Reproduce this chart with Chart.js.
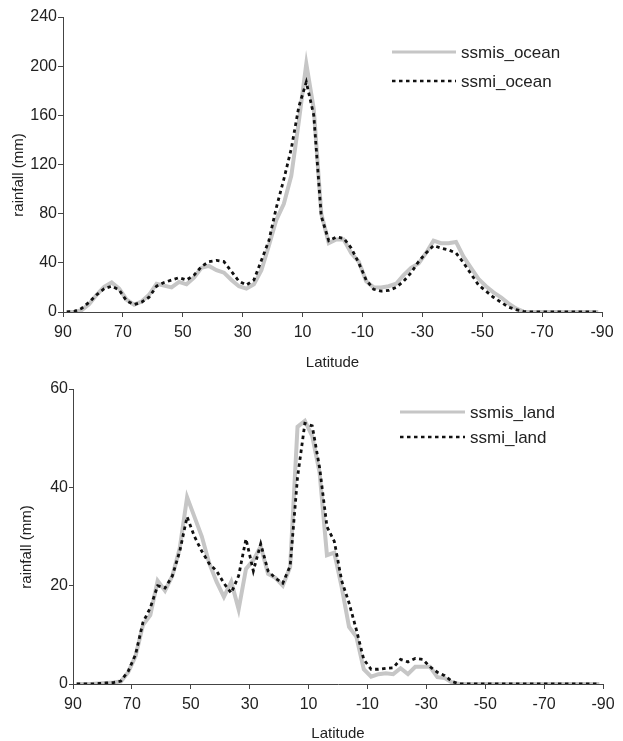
<!DOCTYPE html>
<html>
<head>
<meta charset="utf-8">
<script src="https://cdn.jsdelivr.net/npm/chart.js@4"></script>
<style>
  body { margin: 0; background: #fff; }
  canvas { display: block; }
</style>
</head>
<body>
<canvas id="oceanChart" width="623" height="370"></canvas>
<canvas id="landChart" width="623" height="371"></canvas>
<script>
// latitude bin centres, north to south
const latitudes = [88.75, 86.25, 83.75, 81.25, 78.75, 76.25, 73.75, 71.25, 68.75, 66.25,
  63.75, 61.25, 58.75, 56.25, 53.75, 51.25, 48.75, 46.25, 43.75, 41.25,
  38.75, 36.25, 33.75, 31.25, 28.75, 26.25, 23.75, 21.25, 18.75, 16.25,
  13.75, 11.25, 8.75, 6.25, 3.75, 1.25, -1.25, -3.75, -6.25, -8.75,
  -11.25, -13.75, -16.25, -18.75, -21.25, -23.75, -26.25, -28.75, -31.25, -33.75,
  -36.25, -38.75, -41.25, -43.75, -46.25, -48.75, -51.25, -53.75, -56.25, -58.75,
  -61.25, -63.75, -66.25, -68.75, -71.25, -73.75, -76.25, -78.75, -81.25, -83.75,
  -86.25, -88.75];

const ssmisOcean = [0, 0, 1.5, 6.5, 14, 20.5, 24, 19, 10, 6,
  8.5, 14, 23, 21.5, 20, 24.5, 22.5, 28, 36, 37.5,
  34, 32, 26, 21, 19, 22.5, 34, 54, 75, 88,
  111, 155, 202, 165, 80, 56, 59, 59, 48, 41,
  25, 20, 20, 21, 23, 30, 36, 39.5, 48, 58,
  56, 56, 57, 45, 36, 27, 21, 16, 12, 7,
  3, 0.3, 0, 0, 0, 0, 0, 0, 0, 0,
  0, 0];

const ssmiOcean = [0, 0.5, 3, 8, 14, 19, 21, 18, 9, 6,
  8, 12, 21, 24, 26, 28, 26, 30, 37, 41,
  42, 41, 33, 25, 22, 26, 42, 58, 85, 108,
  133, 167, 187, 160, 78, 58, 61, 60, 52, 40,
  26, 18.5, 17, 17.5, 20, 25, 32, 41, 48, 54,
  52, 50.5, 48, 40, 31, 22, 17, 12, 8, 4,
  2, 0.5, 0, 0, 0, 0, 0, 0, 0, 0,
  0, 0];

const ssmisLand = [0, 0, 0, 0.1, 0.2, 0.3, 0.5, 2.4, 5.7, 12,
  14, 21, 19, 22, 27.6, 38, 34, 30, 24.6, 20.8,
  17.7, 20.8, 15.2, 23.4, 25.2, 28, 22.4, 21.6, 20, 23.8,
  52.3, 53.5, 50.4, 43, 26.2, 26.7, 19.7, 11.6, 9.6, 3,
  1.5, 2, 2.2, 2, 3.2, 2, 3.5, 3.5, 3.5, 1.4,
  1.2, 0.3, 0, 0, 0, 0, 0, 0, 0, 0,
  0, 0, 0, 0, 0, 0, 0, 0, 0, 0,
  0, 0];

const ssmiLand = [0, 0, 0, 0.1, 0.2, 0.3, 0.6, 2.6, 6, 12.5,
  15.5, 20, 19.5, 22, 27, 34, 30, 27, 24.5, 23,
  20.5, 18.5, 22, 29.5, 23, 28.5, 23, 21.5, 20.5, 24,
  42, 53, 52.5, 44, 32, 29, 21, 16.5, 11, 5,
  3, 3, 3.2, 3.3, 5, 4.5, 5.2, 5, 3.5, 2.4,
  1.7, 0.5, 0, 0, 0, 0, 0, 0, 0, 0,
  0, 0, 0, 0, 0, 0, 0, 0, 0, 0,
  0, 0];

const FONT = '"Liberation Sans", Arial, sans-serif';
const AXIS = '#444';
const TEXT = '#222';

// legend inside the plot (line sample + label) and the y title,
// which sits a little below the middle of the axis in the original
const extras = {
  id: 'extras',
  afterDraw(chart, args, opts) {
    const ctx = chart.ctx;
    ctx.save();
    chart.data.datasets.forEach((ds, i) => {
      const y = opts.y + i * opts.gap;
      ctx.beginPath();
      ctx.strokeStyle = ds.borderColor;
      ctx.lineWidth = i === 0 ? 3 : 2.5;
      ctx.setLineDash(ds.borderDash || []);
      ctx.moveTo(opts.x, y);
      ctx.lineTo(opts.x + opts.len, y);
      ctx.stroke();
      ctx.setLineDash([]);
      ctx.fillStyle = TEXT;
      ctx.font = '17px ' + FONT;
      ctx.textBaseline = 'middle';
      ctx.textAlign = 'left';
      ctx.fillText(ds.label, opts.x + opts.len + 5, y + 1);
    });
    ctx.translate(opts.titleX, opts.titleY);
    ctx.rotate(-Math.PI / 2);
    ctx.font = '15px ' + FONT;
    ctx.textAlign = 'center';
    ctx.textBaseline = 'middle';
    ctx.fillText('rainfall (mm)', 0, 0);
    ctx.restore();
  }
};

function makeChart(id, grayVals, blackVals, names, yMax, yStep, L) {
  return new Chart(document.getElementById(id), {
    type: 'line',
    data: {
      datasets: [{
        label: names[0],
        data: latitudes.map((x, i) => ({ x: x, y: grayVals[i] })),
        borderColor: '#c6c6c6',
        borderWidth: 4,
        pointRadius: 0,
        tension: 0,
        order: 2
      }, {
        label: names[1],
        data: latitudes.map((x, i) => ({ x: x, y: blackVals[i] })),
        borderColor: '#111',
        borderWidth: 2.8,
        borderDash: [3.5, 3.5],
        pointRadius: 0,
        tension: 0,
        order: 1
      }]
    },
    options: {
      responsive: false,
      animation: false,
      layout: { padding: { left: 0, right: L.right, top: L.top, bottom: 0 } },
      plugins: {
        legend: { display: false },
        tooltip: { enabled: false },
        extras: L.extras
      },
      scales: {
        x: {
          type: 'linear',
          min: -90,
          max: 90,
          reverse: true,
          afterFit: s => { s.height = L.xHeight; },
          ticks: { stepSize: 20, color: TEXT, font: { family: FONT, size: 16 }, padding: 6 },
          grid: { drawOnChartArea: false, color: AXIS, tickLength: 5 },
          border: { color: AXIS },
          title: { display: true, text: 'Latitude', color: TEXT, font: { family: FONT, size: 15 }, padding: { top: 0, bottom: -2 } }
        },
        y: {
          min: 0,
          max: yMax,
          afterFit: s => { s.width = L.yWidth; },
          ticks: { stepSize: yStep, color: TEXT, font: { family: FONT, size: 16 }, padding: 1 },
          grid: { drawOnChartArea: false, color: AXIS, tickLength: L.yTick },
          border: { color: AXIS }
        }
      }
    },
    plugins: [extras]
  });
}

makeChart('oceanChart', ssmisOcean, ssmiOcean, ['ssmis_ocean', 'ssmi_ocean'], 240, 40, {
  right: 21, top: 17, xHeight: 58, yWidth: 63, yTick: 5,
  extras: { x: 392, y: 52, gap: 29, len: 64, titleX: 19, titleY: 175 }
});

makeChart('landChart', ssmisLand, ssmiLand, ['ssmis_land', 'ssmi_land'], 60, 20, {
  right: 20, top: 19, xHeight: 57, yWidth: 73, yTick: 4,
  extras: { x: 400, y: 42, gap: 25, len: 65, titleX: 27, titleY: 177 }
});
</script>
</body>
</html>
